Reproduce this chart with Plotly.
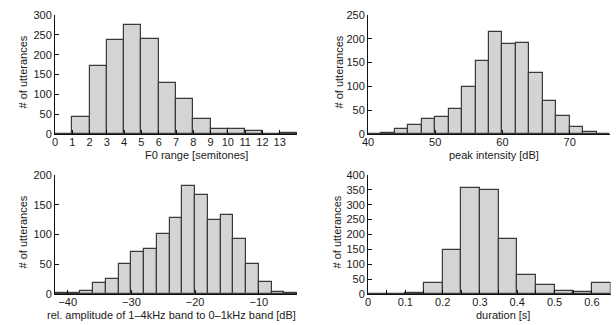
import plotly.graph_objects as go

# ---------------- data ----------------
f0_edges = [0, 1, 2, 3, 4, 5, 6, 7, 8, 9, 10, 11, 12, 13]
f0_counts = [1, 44, 172, 238, 275, 240, 128, 87, 39, 13, 13, 7, 1, 2]

pk_edges = [40, 42, 44, 46, 48, 50, 52, 54, 56, 58, 60, 62, 64, 66, 68, 70, 72, 74]
pk_counts = [1, 3, 10, 18, 32, 36, 53, 99, 153, 215, 190, 192, 128, 69, 38, 15, 5, 1]

ra_edges = [-42, -40, -38, -36, -34, -32, -30, -28, -26, -24, -22, -20, -18, -16,
            -14, -12, -10, -8, -6]
ra_counts = [2, 1, 5, 18, 25, 50, 70, 76, 101, 128, 181, 166, 124, 133, 93, 50, 20, 3, 1]

du_edges = [0.0, 0.05, 0.1, 0.15, 0.2, 0.25, 0.3, 0.35, 0.4, 0.45, 0.5, 0.55, 0.6]
du_counts = [1, 1, 3, 38, 148, 357, 351, 185, 65, 31, 11, 7, 38]

f0_ticks = list(range(0, 15))
f0_ticktext = [str(v) for v in range(0, 14)] + [""]
pk_ticks = [40, 50, 60, 70, 76]
pk_ticktext = ["40", "50", "60", "70", ""]
ra_ticks = [-40, -30, -20, -10, -4]
ra_ticktext = ["\u221240", "\u221230", "\u221220", "\u221210", ""]
du_ticks = [0, 0.05, 0.1, 0.15, 0.2, 0.25, 0.3, 0.35, 0.4, 0.45, 0.5, 0.55, 0.6, 0.65]
du_ticktext = ["0", "", "0.1", "", "0.2", "", "0.3", "", "0.4", "", "0.5", "", "0.6", ""]

x_titles = ["F0 range [semitones]", "peak intensity [dB]",
            "rel. amplitude of 1\u20134kHz band to 0\u20131kHz band [dB]", "duration [s]"]
y_title = "# of utterances"

# ---------------- layout helpers ----------------
W, H = 616, 325
FONT = "Liberation Sans, Arial, Helvetica, sans-serif"
TXT = "#1a1a1a"
FILL = "#d4d4d4"
EDGE = "#3a3a3a"

def px_x(p):
    return p / W

def px_y(p):
    return 1 - p / H

panels = [
    dict(edges=f0_edges, counts=f0_counts, width=1, xr=[0, 14], yr=[0, 300],
         xt=f0_ticks, xtt=f0_ticktext, xd=[55, 297], yd=[15, 134],
         xtitle_x=196, ytitle_x=22),
    dict(edges=pk_edges, counts=pk_counts, width=2, xr=[40, 76], yr=[0, 250],
         xt=pk_ticks, xtt=pk_ticktext, xd=[368, 610], yd=[15, 134],
         xtitle_x=494, ytitle_x=338),
    dict(edges=ra_edges, counts=ra_counts, width=2, xr=[-42, -4], yr=[0, 200],
         xt=ra_ticks, xtt=ra_ticktext, xd=[55, 297], yd=[175, 294],
         xtitle_x=171, ytitle_x=22),
    dict(edges=du_edges, counts=du_counts, width=0.05, xr=[0, 0.65], yr=[0, 400],
         xt=du_ticks, xtt=du_ticktext, xd=[368, 610.5], yd=[175, 294],
         xtitle_x=503, ytitle_x=336),
]

fig = go.Figure()
annotations = []
layout = dict(
    width=W, height=H,
    margin=dict(l=0, r=0, t=0, b=0, pad=0, autoexpand=False),
    paper_bgcolor="white", plot_bgcolor="white",
    showlegend=False, bargap=0,
    font=dict(family=FONT, size=11, color=TXT),
)

for i, p in enumerate(panels):
    n = "" if i == 0 else str(i + 1)
    xa, ya = "x" + n, "y" + n
    fig.add_trace(go.Bar(
        x=p["edges"], y=p["counts"], width=p["width"], offset=0,
        marker=dict(color=FILL, line=dict(color=EDGE, width=1.2)),
        xaxis=xa, yaxis=ya, hoverinfo="skip",
    ))
    layout["xaxis" + n] = dict(
        domain=[px_x(p["xd"][0]), px_x(p["xd"][1])], anchor=ya,
        range=p["xr"], showgrid=False, zeroline=False, automargin=False,
        showline=True, linecolor="#111111", linewidth=1,
        ticks="inside", ticklen=4, tickcolor="#111111", tickwidth=1,
        tickmode="array", tickvals=p["xt"], ticktext=p["xtt"],
        tickfont=dict(size=11, color=TXT, family=FONT),
        ticklabelstandoff=-2,
        fixedrange=True,
    )
    ytick = list(range(0, p["yr"][1] + 1, 50))
    layout["yaxis" + n] = dict(
        domain=[px_y(p["yd"][1]), px_y(p["yd"][0])], anchor=xa,
        range=p["yr"], showgrid=False, zeroline=False, automargin=False,
        showline=True, linecolor="#111111", linewidth=1,
        ticks="inside", ticklen=4, tickcolor="#111111", tickwidth=1,
        tickmode="array", tickvals=ytick,
        tickfont=dict(size=11, color=TXT, family=FONT),
        fixedrange=True,
    )
    annotations.append(dict(
        text=x_titles[i], x=px_x(p["xtitle_x"]), y=px_y(p["yd"][1] + 21),
        xref="paper", yref="paper", showarrow=False,
        xanchor="center", yanchor="middle",
        font=dict(size=11, color=TXT, family=FONT),
    ))
    annotations.append(dict(
        text=y_title, x=px_x(p["ytitle_x"]), y=px_y((p["yd"][0] + p["yd"][1]) / 2 - 2),
        xref="paper", yref="paper", showarrow=False, textangle=-90,
        xanchor="center", yanchor="middle",
        font=dict(size=11, color=TXT, family=FONT),
    ))

layout["annotations"] = annotations
fig.update_layout(**layout)
fig.write_html(
    "out.html",
    config={"displayModeBar": False},
    post_script="document.body.style.margin='0';document.body.style.overflow='hidden';",
)
